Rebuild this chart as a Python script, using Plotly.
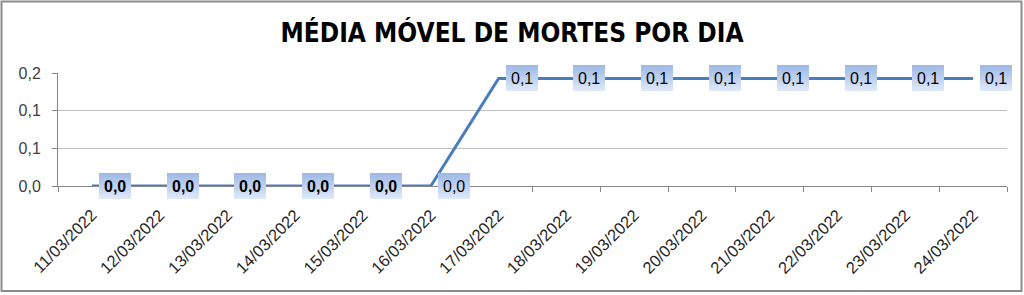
import plotly.graph_objects as go

# ---- data ----
dates = ["11/03/2022", "12/03/2022", "13/03/2022", "14/03/2022", "15/03/2022",
         "16/03/2022", "17/03/2022", "18/03/2022", "19/03/2022", "20/03/2022",
         "21/03/2022", "22/03/2022", "23/03/2022", "24/03/2022"]
media_movel = [0, 0, 0, 0, 0, 0, 1/7, 1/7, 1/7, 1/7, 1/7, 1/7, 1/7, 1/7]
label_bold = [True, True, True, True, True, False, False, False, False, False,
              False, False, False, False]
y_tickvals = [0, 0.05, 0.10, 0.15]
y_ticktext = ["0,0", "0,1", "0,1", "0,2"]
title_text = "MÉDIA MÓVEL DE MORTES POR DIA"

W, H = 1024, 295
ML, MR, MT, MB = 58, 17, 73, 109
FONT = "Liberation Sans, Arial, sans-serif"

fig = go.Figure()
fig.add_trace(go.Scatter(
    x=dates, y=media_movel, mode="lines",
    line=dict(color="#4a7ebb", width=3),
    hoverinfo="skip", showlegend=False,
))

# data-label boxes with vertical gradient (stacked background stripes, unclipped)
top_rgb = (160, 186, 230)
bot_rgb = (222, 231, 247)
n_str = 13
stripe_h = 2
box_w = 32
box_cx = 23
annotations = []
for d, v, b in zip(dates, media_movel, label_bold):
    for k in range(n_str):
        t = k / (n_str - 1)
        c = tuple(round(top_rgb[j] + (bot_rgb[j] - top_rgb[j]) * t) for j in range(3))
        yoff = (n_str * stripe_h) / 2 - stripe_h / 2 - k * stripe_h
        annotations.append(dict(
            x=d, y=v, xref="x", yref="y", text=" ", showarrow=False,
            width=box_w, height=stripe_h, borderpad=0, borderwidth=0,
            bgcolor="rgb(%d,%d,%d)" % c, font=dict(size=1),
            xshift=box_cx, yshift=yoff, xanchor="center", yanchor="middle",
        ))
for d, v, b in zip(dates, media_movel, label_bold):
    txt = ("%.1f" % v).replace(".", ",")
    annotations.append(dict(
        x=d, y=v, xref="x", yref="y", text=("<b>%s</b>" % txt) if b else txt,
        showarrow=False, xshift=box_cx, yshift=0,
        font=dict(family=FONT, size=16, color="#000000"),
        xanchor="center", yanchor="middle",
    ))

# outer chart border
def px_x(p):
    return (p - ML) / (W - ML - MR)

def px_y(p):
    return 1 - (p - MT) / (H - MT - MB)

shapes = [dict(type="rect", xref="paper", yref="paper",
               x0=px_x(1.5), x1=px_x(1021.5), y0=px_y(1.5), y1=px_y(291),
               line=dict(color="#8c8c8c", width=2), fillcolor="rgba(0,0,0,0)",
               layer="above")]

fig.update_layout(
    width=W, height=H,
    margin=dict(l=ML, r=MR, t=MT, b=MB),
    paper_bgcolor="white", plot_bgcolor="white",
    title=dict(text="<b>%s</b>" % title_text, x=0.5, xref="container", xanchor="center",
               y=1 - 33 / H, yref="container", yanchor="middle",
               font=dict(family="Liberation Sans Narrow, Arial Narrow, DejaVu Sans Condensed, sans-serif",
                         size=26, color="#000000")),
    xaxis=dict(type="category", categoryorder="array", categoryarray=dates,
               range=[-0.5, len(dates) - 0.5], showgrid=False,
               showline=True, linecolor="#868686", linewidth=1,
               ticks="outside", tickson="boundaries", ticklen=5, tickcolor="#868686",
               tickangle=-45, tickfont=dict(family=FONT, size=16.5, color="#262626"),
               ticklabelstandoff=12, fixedrange=True),
    yaxis=dict(range=[0, 0.15], tickvals=y_tickvals, ticktext=y_ticktext,
               showgrid=True, gridcolor="#bfbfbf", gridwidth=1, zeroline=False,
               showline=True, linecolor="#868686", linewidth=1,
               ticks="outside", ticklen=5, tickcolor="#868686",
               tickfont=dict(family=FONT, size=16, color="#404040"),
               ticklabelstandoff=8, fixedrange=True),
    shapes=shapes, annotations=annotations,
)

fig.write_html("out.html")
